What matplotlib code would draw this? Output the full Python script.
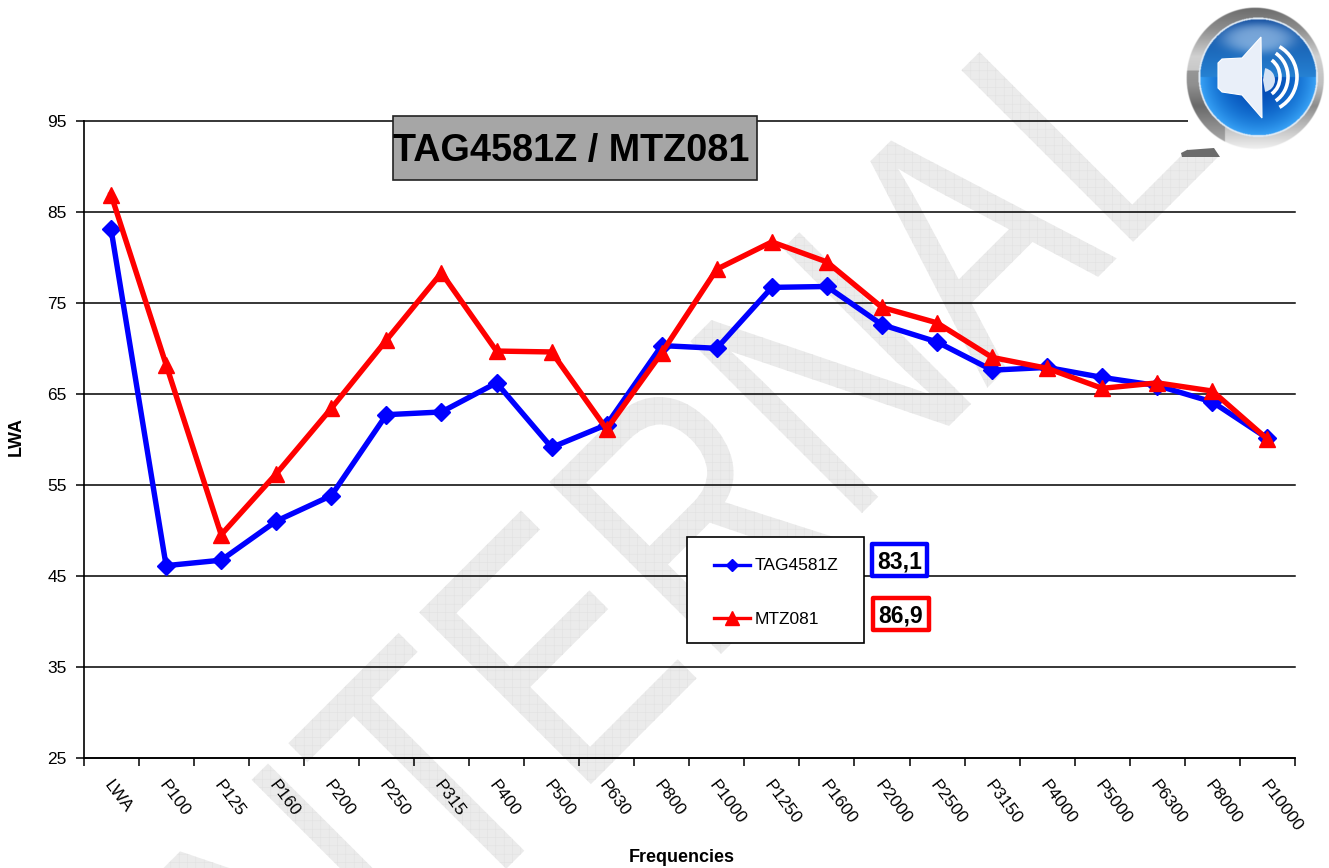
import numpy as np
import matplotlib
matplotlib.use("Agg")
import matplotlib.pyplot as plt
from matplotlib.patches import Polygon, Wedge, Arc, Rectangle, PathPatch
from matplotlib.textpath import TextPath
from matplotlib.font_manager import FontProperties
from matplotlib.transforms import Affine2D

plt.rcParams["font.family"] = ["Liberation Sans", "DejaVu Sans"]
plt.rcParams["hatch.color"] = "#dedede"
plt.rcParams["hatch.linewidth"] = 0.4

W, H = 1329, 868

categories = ["LWA", "P100", "P125", "P160", "P200", "P250", "P315", "P400", "P500", "P630", "P800",
              "P1000", "P1250", "P1600", "P2000", "P2500", "P3150", "P4000", "P5000", "P6300", "P8000", "P10000"]
tag_values = [83.1, 46.1, 46.7, 51.0, 53.8, 62.7, 63.0, 66.2, 59.1, 61.6, 70.3,
              70.0, 76.7, 76.8, 72.6, 70.7, 67.6, 67.9, 66.8, 65.9, 64.1, 60.1]
mtz_values = [86.9, 68.2, 49.5, 56.2, 63.4, 70.9, 78.3, 69.7, 69.6, 61.1, 69.5,
              78.7, 81.7, 79.5, 74.5, 72.8, 69.0, 67.8, 65.6, 66.2, 65.3, 60.0]
y_ticks = [25, 35, 45, 55, 65, 75, 85, 95]

fig = plt.figure(figsize=(W / 100, H / 100), dpi=100, facecolor="white")

# pixel overlay behind the chart, for the watermark
bg = fig.add_axes([0, 0, 1, 1], zorder=0)
bg.set_xlim(0, W)
bg.set_ylim(H, 0)
bg.axis("off")

fp = FontProperties(family="Liberation Sans")
tp = TextPath((0, 0), "INTERNAL", size=1000, prop=fp)
tr = Affine2D().scale(0.276, -0.353).rotate_deg(-45).translate(260.5, 1114.5)
bg.add_patch(PathPatch(tp, transform=tr + bg.transData, facecolor="#ebebeb", edgecolor="#e2e2e2",
                       lw=0, hatch="++"))

# main chart
ax = fig.add_axes([83.5 / W, 1 - 757.5 / H, (1295 - 83.5) / W, (757.5 - 121) / H], zorder=1)
ax.patch.set_alpha(0)
x = np.arange(len(categories))
ax.set_xlim(-0.5, len(categories) - 0.5)
ax.set_ylim(25, 95)
ax.yaxis.grid(True, color="black", lw=1.1, clip_on=False)
ax.set_axisbelow(True)
for s in ["top", "right"]:
    ax.spines[s].set_visible(False)
ax.spines["left"].set_linewidth(1.2)
ax.spines["bottom"].set_linewidth(1.2)

ax.plot(x, tag_values, color="#0000ff", lw=3.9, marker="D", ms=9, zorder=3, clip_on=False)
ax.plot(x, mtz_values, color="#ff0000", lw=3.9, marker="^", ms=11, zorder=4, clip_on=False)

ax.set_yticks(y_ticks)
ax.tick_params(axis="y", labelsize=12.5, length=6, width=1.1, pad=6)
ax.set_xticks(np.append(x - 0.5, x[-1] + 0.5))
ax.set_xticklabels([])
ax.tick_params(axis="x", length=6, width=1.1)
for i, lab in enumerate(categories):
    ax.annotate(lab, (i, 25), xytext=(-3, -18), textcoords="offset points", rotation=-53,
                rotation_mode="anchor", ha="left", va="center", fontsize=12.5, annotation_clip=False)

fig.text(682 / W, 1 - 857 / H, "Frequencies", fontsize=13, fontweight="bold", ha="center", va="center")
fig.text(16 / W, 1 - 437 / H, "LWA", fontsize=13, fontweight="bold", rotation=90, ha="center", va="center")

# pixel overlay in front: title, legend, value boxes, icon
fg = fig.add_axes([0, 0, 1, 1], zorder=5)
fg.axis("off")

fg.add_patch(Rectangle((393, 116), 364, 64, fc="#a6a6a6", ec="#222222", lw=1.2))
fg.text(571.5, 151, "TAG4581Z / MTZ081", fontsize=27.2, fontweight="bold", ha="center", va="center", color="black")

fg.add_patch(Rectangle((687, 537), 177, 106, fc="white", ec="black", lw=1.2))
fg.plot([714, 750], [565, 565], color="#0000ff", lw=2.4)
fg.plot([732], [565], color="#0000ff", marker="D", ms=6.5)
fg.text(755, 566, "TAG4581Z", fontsize=12.5, va="center")
fg.plot([714, 750], [618, 618], color="#ff0000", lw=2.4)
fg.plot([732], [618], color="#ff0000", marker="^", ms=9.5)
fg.text(755, 620, "MTZ081", fontsize=12.5, va="center")

fg.add_patch(Rectangle((872, 544), 55, 32, fc="white", ec="#0000ff", lw=3.2, joinstyle="round"))
fg.text(899.5, 562, "83,1", fontsize=16.5, fontweight="bold", ha="center", va="center")
fg.add_patch(Rectangle((873, 598), 56, 32, fc="white", ec="#ff0000", lw=3.2, joinstyle="round"))
fg.text(901, 616, "86,9", fontsize=16.5, fontweight="bold", ha="center", va="center")

# speaker icon, shaded with numpy
fg.add_patch(Rectangle((1188, 0), W - 1188, 150, fc="white", ec="none"))
fg.add_patch(Polygon([(1187, 150), (1214, 148), (1220, 157), (1182, 157), (1181, 153)],
                     closed=True, fc="#6b6b6b", ec="none"))
gx, gy = np.meshgrid(np.arange(1180, W, 0.5), np.arange(0, 160, 0.5))
t = (gy - 7) / 141
rgba = np.ones(gx.shape + (4,))
outer = ((gx - 1255) / 69) ** 2 + ((gy - 78) / 71) ** 2
inner = np.hypot(gx - 1258, gy - 77) / 58
grey = np.interp(t, [0, 0.15, 0.35, 0.55, 0.7, 1], [0.42, 0.55, 0.82, 0.75, 0.55, 0.94])
grey = np.where((t > 0.45) & (gx < 1225), grey * 0.75, grey)
for c in range(3):
    rgba[..., c] = grey
rgba[..., 3] = np.clip((1 - outer) * 40, 0, 1)
upper = np.stack([0.05 + 0.2 * t, 0.26 + 0.5 * t, 0.58 + 0.5 * t], axis=-1)
lower = np.stack([0.02 + 0.2 * inner ** 3, 0.28 + 0.35 * inner ** 2, 0.70 + 0.26 * inner ** 2], axis=-1)
blue = np.where((gy < 77)[..., None], upper, lower)
glow = np.exp(-(((gx - 1258) / 36) ** 2 + ((gy - 38) / 15) ** 2) ** 2)[..., None]
blue = blue * (1 - 0.6 * glow) + np.array([0.72, 0.84, 0.96]) * 0.6 * glow
mask = inner < 1
rgba[..., :3][mask] = np.clip(blue[mask], 0, 1)
rim = (inner >= 1) & (inner < 1.03)
rgba[..., :3][rim] = [0.88, 0.92, 0.96]
fg.imshow(rgba, extent=(1180, W, 160, 0), aspect="auto", interpolation="bilinear", zorder=2)
fg.add_patch(Polygon([(1218, 63), (1222, 59), (1242, 58), (1261, 37), (1262, 118), (1242, 95), (1222, 92), (1218, 88)],
                     closed=True, fc="#e9eff9", ec="white", lw=0.8, zorder=3))
fg.add_patch(Wedge((1263, 80), 12, -80, 80, fc="#d5e3f5", ec="none", zorder=3))
for rx, ry in ((18, 20), (26, 28), (35, 35)):
    fg.add_patch(Arc((1262, 77), 2 * rx, 2 * ry, theta1=-60, theta2=60, color="white", lw=2.6, zorder=3))

fg.set_xlim(0, W)
fg.set_ylim(H, 0)

fig.savefig("out.png", dpi=100)
